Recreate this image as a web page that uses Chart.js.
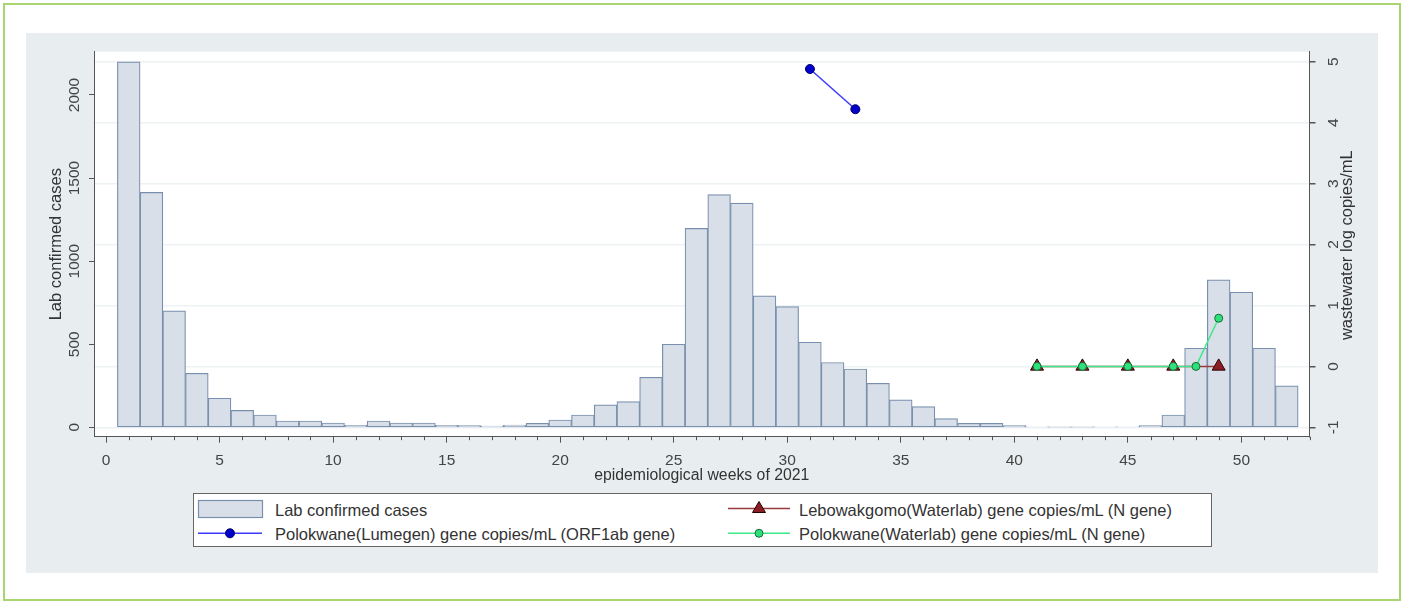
<!DOCTYPE html>
<html><head><meta charset="utf-8">
<script src="https://cdn.jsdelivr.net/npm/chart.js@4.4.1/dist/chart.umd.min.js"></script>
<style>
html,body{margin:0;padding:0;background:#fff;width:1403px;height:602px;overflow:hidden;font-family:"Liberation Sans",Arial,sans-serif;}
#frame{position:absolute;left:2.5px;top:2.5px;width:1398px;height:598px;border:2px solid #a9d46f;box-sizing:border-box;}
#panel{position:absolute;left:26px;top:33px;width:1352px;height:540px;background:#e8eef0;}
#c{position:absolute;left:0;top:0;}
#legend{position:absolute;left:193px;top:493px;width:1019px;height:54px;border:1px solid #666;background:#fff;box-sizing:border-box;}
#legend svg{position:absolute;left:-1px;top:-1px;}
.li{position:absolute;font-size:16.5px;color:#333;line-height:20px;white-space:nowrap;}
</style>
</head><body>
<div id="frame"></div>
<div id="panel"></div>
<canvas id="c" width="1403" height="602"></canvas>
<div id="legend">
<svg width="1019" height="54">
<rect x="5.5" y="7.5" width="64" height="17" fill="#d9dfe8" stroke="#7890ad" stroke-width="1.2"/>
<line x1="5" y1="40.3" x2="69" y2="40.3" stroke="#3b3bff" stroke-width="1.5"/>
<circle cx="37" cy="40.3" r="4.5" fill="#0000c8" stroke="#00006a" stroke-width="1"/>
<line x1="535" y1="15.5" x2="597" y2="15.5" stroke="#9b3b3b" stroke-width="1.5"/>
<polygon points="566,8.5 572.5,19.5 559.5,19.5" fill="#8b1e24" stroke="#2a0000" stroke-width="1"/>
<line x1="535" y1="40.3" x2="597" y2="40.3" stroke="#3de88a" stroke-width="1.5"/>
<circle cx="566" cy="40.3" r="4" fill="#2ee07a" stroke="#1a6a3a" stroke-width="1"/>
</svg>
<span class="li" style="left:81px;top:5.5px">Lab confirmed cases</span>
<span class="li" style="left:81px;top:30.3px">Polokwane(Lumegen) gene copies/mL (ORF1ab gene)</span>
<span class="li" style="left:605px;top:5.5px">Lebowakgomo(Waterlab) gene copies/mL (N gene)</span>
<span class="li" style="left:605px;top:30.3px">Polokwane(Waterlab) gene copies/mL (N gene)</span>
</div>
<script>
const weeks = [1,2,3,4,5,6,7,8,9,10,11,12,13,14,15,16,17,18,19,20,21,22,23,24,25,26,27,28,29,30,31,32,33,34,35,36,37,38,39,40,41,42,43,44,45,46,47,48,49,50,51,52];
const labCases = [2200,1414,701,325,175,102,74,38,38,26,12,38,26,26,12,10,8,14,24,44,74,135,155,301,500,1197,1400,1349,791,727,512,390,351,265,165,124,52,24,24,10,2,1,1,2,3,10,74,476,888,813,476,249];

const lumegenWeeks = [31,33];
const lumegenValues = [4.88,4.22];
const lebowakgomoWeeks = [41,43,45,47,49];
const lebowakgomoValues = [0,0,0,0,0];
const polokwaneWLWeeks = [41,43,45,47,48,49];
const polokwaneWLValues = [0,0,0,0,0,0.79];

const xTicks = [0,5,10,15,20,25,30,35,40,45,50];
const leftTicks = [0,500,1000,1500,2000];
const rightTicks = [-1,0,1,2,3,4,5];

const xTitle = 'epidemiological weeks of 2021';
const leftTitle = 'Lab confirmed cases';
const rightTitle = 'wastewater log copies/mL';

const F = '"Liberation Sans", Arial, sans-serif';
const pts = (xs, ys) => xs.map((x,i)=>({x:x, y:ys[i]}));

function vtext(ctx, txt, x, y){
  ctx.save(); ctx.translate(x,y); ctx.rotate(-Math.PI/2);
  ctx.textAlign='center'; ctx.textBaseline='middle'; ctx.fillText(txt,0,0); ctx.restore();
}

const deco = {
  id:'deco',
  beforeDraw(chart){
    const {ctx, chartArea:a} = chart;
    ctx.save(); ctx.fillStyle='#ffffff';
    ctx.fillRect(a.left, a.top, a.right-a.left, a.bottom-a.top);
    ctx.restore();
  },
  afterDraw(chart){
    const {ctx, chartArea:a} = chart;
    const sx = chart.scales.x, yl = chart.scales.y, yr = chart.scales.y1;
    ctx.save();
    ctx.strokeStyle='#555'; ctx.lineWidth=1;
    for (let w = Math.ceil(sx.min); w <= Math.floor(sx.max); w++) {
      if (xTicks.includes(w)) continue;
      const px = Math.round(sx.getPixelForValue(w)) + 0.5;
      ctx.beginPath(); ctx.moveTo(px, a.bottom); ctx.lineTo(px, a.bottom+3.5); ctx.stroke();
    }
    ctx.fillStyle='#444';
    ctx.font = '15.5px ' + F;
    leftTicks.forEach(v => vtext(ctx, String(v), 74.5, yl.getPixelForValue(v)));
    rightTicks.forEach(v => vtext(ctx, String(v), 1333.5, yr.getPixelForValue(v)));
    ctx.fillStyle='#333';
    ctx.font = '16.5px ' + F;
    const cy = (a.top + a.bottom)/2;
    vtext(ctx, leftTitle, 56.5, cy);
    vtext(ctx, rightTitle, 1347.5, cy + 1);
    ctx.restore();
  }
};

new Chart(document.getElementById('c'), {
  type:'bar',
  data:{
    datasets:[
      { type:'line', label:'Polokwane(Waterlab) gene copies/mL (N gene)', data: pts(polokwaneWLWeeks, polokwaneWLValues),
        yAxisID:'y1', borderColor:'#3de88a', borderWidth:1.5, pointRadius:4, pointBackgroundColor:'#2ee07a',
        pointBorderColor:'#1a6a3a', pointBorderWidth:1, tension:0, order:1 },
      { type:'line', label:'Polokwane(Lumegen) gene copies/mL (ORF1ab gene)', data: pts(lumegenWeeks, lumegenValues),
        yAxisID:'y1', borderColor:'#3b3bff', borderWidth:1.5, pointRadius:4.5, pointBackgroundColor:'#0000c8',
        pointBorderColor:'#00006a', pointBorderWidth:1, tension:0, order:2 },
      { type:'line', label:'Lebowakgomo(Waterlab) gene copies/mL (N gene)', data: pts(lebowakgomoWeeks, lebowakgomoValues),
        yAxisID:'y1', borderColor:'#9b3b3b', borderWidth:1.5, pointStyle:'triangle', pointRadius:7.5,
        pointBackgroundColor:'#8b1e24', pointBorderColor:'#2a0000', pointBorderWidth:1, tension:0, order:3 },
      { type:'bar', label:'Lab confirmed cases', data: pts(weeks, labCases), yAxisID:'y',
        backgroundColor:'#d9dfe8', borderColor:'#7890ad', borderWidth:1.2, borderSkipped:false,
        barPercentage:1, categoryPercentage:1, order:10 }
    ]
  },
  options:{
    responsive:false, animation:false, devicePixelRatio:1,
    layout:{padding:{left:30, right:30, top:51.7, bottom:117.3}},
    plugins:{legend:{display:false}, tooltip:{enabled:false}},
    scales:{
      x:{ type:'linear', min:-0.53, max:53, offset:false,
        afterBuildTicks: s => { s.ticks = xTicks.map(v=>({value:v})); },
        afterFit: s => { s.height = 48; },
        ticks:{ font:{size:15.5, family:F}, color:'#444', padding:9, autoSkip:false, maxRotation:0, minRotation:0 },
        grid:{ offset:false, drawOnChartArea:false, drawTicks:true, tickLength:6, tickColor:'#555', tickWidth:1 },
        border:{ display:true, color:'#555', width:1 },
        title:{ display:true, text:xTitle, font:{size:15.8, family:F}, color:'#333', padding:0 }
      },
      y:{ type:'linear', position:'left', min:-56.6, max:2260.6,
        afterBuildTicks: s => { s.ticks = leftTicks.map(v=>({value:v})); },
        afterFit: s => { s.width = 64; },
        ticks:{ display:false },
        grid:{ offset:false, drawOnChartArea:false, drawTicks:true, tickLength:5, tickColor:'#555' },
        border:{ display:true, color:'#555', width:1 }
      },
      y1:{ type:'linear', position:'right', min:-1.154, max:5.164,
        afterBuildTicks: s => { s.ticks = rightTicks.map(v=>({value:v})); },
        afterFit: s => { s.width = 63.5; },
        ticks:{ display:false },
        grid:{ offset:false, drawOnChartArea:true, color:'#edf2f5', lineWidth:1.5, drawTicks:true, tickLength:6, tickColor:'#555' },
        border:{ display:true, color:'#555', width:1 }
      }
    }
  },
  plugins:[deco]
});
</script>
</body></html>
